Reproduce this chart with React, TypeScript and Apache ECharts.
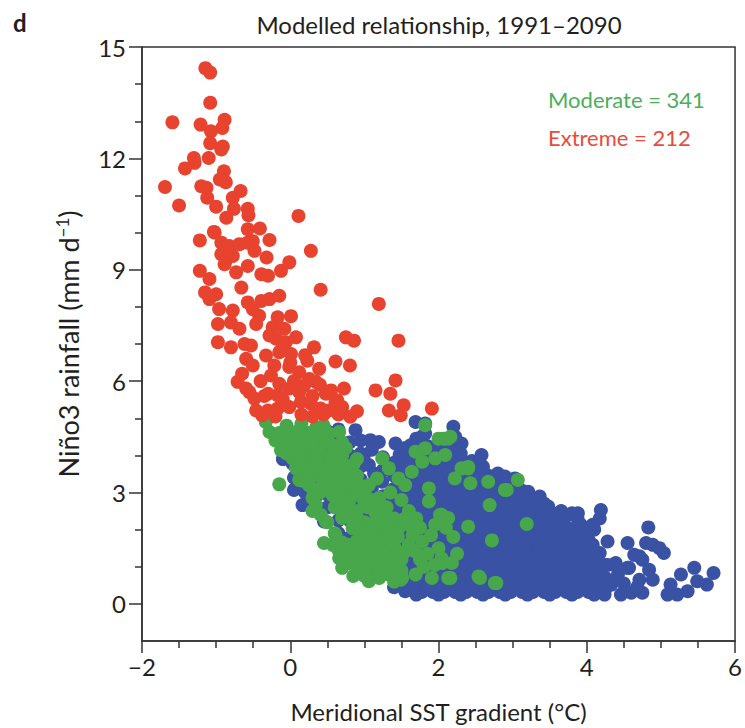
import React, { useEffect, useRef } from "react";
import * as echarts from "echarts";

// ---------- data ----------
const panelLabel = "d";
const chartTitle = "Modelled relationship, 1991–2090";
const xAxisTitle = "Meridional SST gradient (°C)";
const legendLabels = ["Moderate = 341", "Extreme = 212"];

const xRange = [-2, 6];
const yRange = [-1, 15];
const yMajorTicks = [0, 3, 6, 9, 12, 15];
const yMinorTicks = [1, 2, 4, 5, 7, 8, 10, 11, 13, 14];

const extremePoints: [number, number][] = [
  [-1.145, 14.43], [-1.08, 14.31], [-1.08, 13.5], [-1.59, 12.97], [-1.21, 12.91], [-0.886, 13.04],
  [-0.917, 12.82], [-1.07, 12.73], [-1.08, 12.41], [-0.91, 12.32], [-0.93, 12.24], [-1.3, 12.01],
  [-1.29, 11.88], [-1.1, 12.01], [-1.42, 11.73], [-0.895, 11.65], [-0.95, 11.43], [-0.87, 11.36],
  [-1.69, 11.23], [-1.2, 11.25], [-1.13, 11.21], [-1.12, 10.94], [-0.67, 11.12], [-0.775, 10.94],
  [-1.5, 10.73], [-1.0, 10.7], [-0.76, 10.64], [-0.573, 10.64], [-0.564, 10.47], [-0.863, 10.4],
  [0.111, 10.45], [-1.03, 10.02], [-0.573, 10.09], [-0.41, 10.11], [-0.28, 9.8], [-1.22, 9.79],
  [-1.02, 10.0], [-0.93, 9.73], [-0.82, 9.64], [-0.685, 9.69], [-0.573, 9.73], [-0.506, 9.77],
  [-0.93, 9.42], [-0.86, 9.28], [-0.775, 9.37], [-0.483, 9.51], [0.278, 9.51], [-0.32, 9.33],
  [-1.22, 8.97], [-0.886, 9.15], [-0.73, 8.93], [-0.573, 9.1], [-0.39, 8.88], [-0.3, 8.84],
  [-0.125, 8.97], [-0.013, 9.2], [-1.09, 8.75], [-0.66, 8.52], [0.41, 8.46], [-1.15, 8.39],
  [-1.0, 8.34], [-1.09, 8.21], [-0.573, 8.12], [-0.39, 8.16], [-0.28, 8.21], [-0.148, 8.3],
  [1.195, 8.08], [-0.96, 7.94], [-0.775, 7.9], [-0.506, 7.94], [-0.42, 7.76], [-0.17, 7.72],
  [0.01, 7.75], [-0.976, 7.54], [-0.8, 7.58], [-0.685, 7.41], [-0.46, 7.54], [-0.237, 7.45],
  [-0.08, 7.41], [-0.28, 7.23], [-0.19, 7.14], [-0.06, 7.05], [0.077, 7.18], [0.75, 7.18],
  [0.86, 7.09], [1.46, 7.09], [-0.976, 7.05], [-0.8, 6.91], [-0.617, 7.0], [-0.53, 6.96],
  [-0.327, 6.69], [-0.148, 6.78], [0.01, 6.73], [0.32, 6.91], [-0.595, 6.6], [-0.506, 6.42],
  [0.61, 6.53], [0.805, 6.42], [0.23, 6.55], [0.39, 6.33], [-0.215, 6.42], [-0.013, 6.38],
  [0.12, 6.24], [0.255, 6.06], [-0.71, 5.98], [-0.595, 5.8], [-0.483, 5.53], [-0.26, 6.15],
  [-0.148, 5.93], [-0.17, 5.62], [-0.3, 5.66], [-0.013, 5.8], [0.12, 5.71], [0.188, 5.88],
  [0.345, 5.98], [0.48, 5.66], [0.61, 5.44], [0.725, 5.8], [1.42, 6.02], [1.15, 5.75],
  [1.35, 5.66], [1.53, 5.35], [1.33, 5.21], [1.49, 5.08], [1.91, 5.26], [-0.46, 5.21],
  [-0.3, 5.21], [-0.17, 5.26], [-0.013, 5.3], [0.144, 5.44], [0.278, 5.39], [0.41, 5.26],
  [0.52, 5.21], [0.635, 5.48], [0.9, 5.19], [0.81, 5.04], [-0.35, 5.6], [-0.1, 5.5],
  [0.05, 6.0], [0.3, 5.6], [0.45, 5.1], [-0.2, 5.05], [0.15, 5.1], [0.65, 5.1],
  [-0.55, 5.7], [-0.65, 6.2], [-0.4, 6.0], [0.0, 6.5], [0.2, 6.7], [-0.1, 6.9],
  [0.4, 5.9], [-0.38, 5.08], [0.3, 5.05], [0.55, 5.75], [0.7, 5.3],
];

const moderatePoints: [number, number][] = [
  [-0.28, 4.63], [-0.33, 4.9], [-0.125, 4.14], [-0.148, 3.22], [0.03, 4.27], [0.165, 4.45],
  [0.345, 4.54], [0.52, 4.59], [0.66, 4.63], [0.12, 3.34], [0.278, 3.83], [0.435, 3.38],
  [0.345, 2.66], [0.41, 2.4], [0.455, 1.64], [0.66, 1.23], [0.79, 1.41], [0.97, 0.88],
  [1.08, 0.7], [0.93, 1.05], [0.75, 2.66], [0.93, 2.93], [1.06, 3.2], [1.17, 3.38],
  [1.24, 3.92], [1.33, 3.65], [1.46, 3.38], [1.55, 3.2], [1.64, 3.56], [1.78, 3.83],
  [1.69, 4.1], [1.82, 4.19], [1.955, 3.92], [2.09, 4.01], [1.82, 4.81], [2.0, 4.45],
  [2.13, 4.45], [2.31, 3.65], [2.4, 3.65], [2.22, 3.38], [1.87, 3.11], [1.87, 2.76],
  [2.02, 2.4], [1.955, 2.13], [2.13, 2.31], [2.43, 3.25], [2.67, 3.29], [2.895, 3.07],
  [3.07, 3.34], [2.69, 2.66], [2.4, 2.08], [3.19, 2.15], [2.72, 1.71], [2.54, 0.74],
  [2.76, 0.56], [2.04, 1.23], [2.18, 1.1], [2.13, 0.7], [1.91, 0.7], [1.69, 0.79],
  [1.51, 0.7], [1.37, 0.79], [1.31, 1.01], [1.24, 1.86], [1.46, 2.04], [1.6, 2.13],
  [1.78, 1.68], [1.69, 1.41], [1.55, 1.41], [1.37, 1.5], [-0.1, 4.27], [0.03, 3.92],
  [0.165, 3.65], [0.345, 3.47], [0.52, 3.38], [0.66, 3.38], [0.79, 3.38], [0.93, 3.2],
  [0.61, 4.1], [0.48, 3.83], [0.21, 4.01], [0.077, 3.65], [0.3, 3.11], [0.57, 2.93],
  [0.7, 2.31], [0.84, 2.04], [1.02, 1.86], [1.15, 1.41], [0.61, 1.86], [0.48, 2.22],
  [0.57, 1.59], [0.79, 1.59], [0.88, 1.23], [0.7, 0.97], [1.02, 1.41], [1.24, 1.15],
  [0.2, 4.3], [0.4, 4.1], [0.1, 3.9], [0.3, 3.6], [0.5, 3.5], [0.7, 3.1],
  [0.8, 2.8], [0.6, 2.6], [0.9, 2.5], [1.0, 2.2], [1.1, 1.9], [0.9, 1.7],
  [1.2, 1.7], [0.4, 3.0], [0.2, 3.3], [0.0, 4.5], [-0.2, 4.4], [0.6, 3.9],
  [0.8, 3.6], [1.0, 3.0], [1.3, 2.6], [1.1, 2.8], [1.4, 2.3], [1.2, 2.1],
  [0.5, 2.2], [0.6, 1.9], [0.75, 1.3], [1.05, 0.95], [1.3, 0.9], [-0.05, 4.8],
  [0.15, 4.85], [0.35, 4.75], [0.55, 4.0], [0.45, 4.4], [0.75, 4.2], [0.9, 3.9],
  [1.35, 3.0], [1.5, 2.8], [1.6, 2.5], [1.45, 1.8], [1.6, 1.6], [1.7, 2.3],
  [1.5, 1.2], [1.8, 1.0], [2.0, 1.5], [2.2, 1.8], [0.93, 0.92], [1.06, 0.61],
  [1.33, 0.79], [1.49, 0.65], [2.07, 4.45], [2.16, 4.5], [2.4, 3.69], [2.92, 3.07],
  [2.04, 2.4], [2.07, 2.22], [2.05, 1.1], [2.16, 0.7], [2.56, 0.7], [2.78, 0.56],
  [0.1, 4.65], [0.25, 4.6], [-0.15, 4.6], [0.45, 4.8], [-0.1, 4.45], [0.05, 4.35],
  [0.3, 4.3], [0.55, 4.3], [0.7, 4.35], [0.42, 4.55], [-0.05, 4.05], [0.1, 4.1],
  [0.35, 3.95], [0.7, 4.0], [0.15, 3.8], [0.4, 3.7], [0.55, 3.75], [0.7, 3.8],
  [0.85, 3.75], [0.25, 3.45], [0.6, 3.55], [0.9, 3.45], [0.75, 3.6], [0.25, 3.2],
  [0.45, 3.2], [0.6, 3.2], [0.85, 3.1], [0.3, 2.85], [0.65, 2.85], [0.85, 2.95],
  [1.05, 2.6], [1.2, 2.85], [1.0, 2.75], [0.3, 2.5], [0.75, 2.45], [0.9, 2.3],
  [1.15, 2.45], [1.3, 2.3], [1.2, 2.55], [0.85, 2.2], [1.05, 2.05], [1.15, 2.2],
  [1.35, 2.05], [1.3, 1.95], [0.95, 1.9], [1.15, 1.75], [1.3, 1.75], [1.4, 1.55],
  [1.05, 1.65], [0.7, 1.65], [0.65, 1.45], [0.85, 1.45], [0.95, 1.55], [1.1, 1.3],
  [1.25, 1.4], [1.4, 1.3], [0.8, 1.1], [0.95, 1.2], [1.1, 1.1], [1.2, 0.95],
  [1.4, 1.05], [1.5, 0.9], [0.85, 0.75], [1.0, 0.75], [1.2, 0.7], [1.4, 0.6],
  [1.55, 2.3], [1.75, 2.05], [1.9, 1.85], [2.1, 2.05], [1.65, 1.85], [1.85, 1.35],
  [2.25, 1.35], [1.95, 1.05], [1.75, 1.2],
];

// blue cloud: edge and scattered points
const weakPoints: [number, number][] = [
  [-0.1, 3.9], [-0.1, 4.25], [-0.08, 4.59],
  [0.05, 3.07], [0.05, 3.4], [0.03, 3.78], [0.05, 4.1],
  [0.165, 2.66], [0.2, 3.0], [0.2, 3.35], [0.2, 3.7], [0.2, 4.05], [0.2, 4.4],
  [0.35, 2.55], [0.35, 2.9], [0.35, 3.25], [0.35, 3.6], [0.35, 3.95], [0.35, 4.3], [0.35, 4.6],
  [0.455, 2.22], [0.5, 2.6], [0.5, 2.95], [0.5, 3.3], [0.5, 3.65], [0.5, 4.0], [0.5, 4.35], [0.5, 4.65],
  [0.65, 1.9], [0.65, 2.25], [0.65, 2.6], [0.65, 2.95], [0.65, 3.3], [0.65, 3.65], [0.65, 4.0], [0.65, 4.35], [0.65, 4.7],
  [0.79, 1.77], [0.8, 2.25], [0.8, 2.6], [0.8, 2.95], [0.8, 3.3], [0.8, 3.65], [0.8, 4.0], [0.8, 4.35], [0.88, 4.68],
  [0.95, 1.25], [0.95, 1.6], [0.95, 1.95], [0.95, 2.3], [0.95, 2.65], [0.99, 3.96], [0.95, 3.35], [0.95, 3.7], [0.95, 4.05], [0.95, 4.4],
  [1.1, 1.0], [1.1, 1.35], [1.1, 1.7], [1.1, 2.05], [1.1, 2.4], [1.1, 2.75], [1.1, 3.1], [1.13, 3.51], [1.06, 3.74], [1.1, 4.15], [1.08, 4.41],
  [1.25, 0.8], [1.25, 1.15], [1.25, 1.5], [1.25, 1.85], [1.25, 2.2], [1.25, 2.55], [1.25, 2.9], [1.24, 3.29], [1.25, 3.6], [1.25, 3.95], [1.195, 4.36],
  [1.4, 0.45], [1.4, 1.0], [1.4, 1.35], [1.4, 1.7], [1.4, 2.05], [1.4, 2.4], [1.4, 2.75], [1.4, 3.1], [1.4, 3.45], [1.4, 3.8], [1.42, 4.32],
  [1.55, 0.34], [1.55, 0.7], [1.55, 1.05], [1.55, 1.4], [1.55, 1.75], [1.55, 2.1], [1.55, 2.45], [1.55, 2.8], [1.55, 3.15], [1.55, 3.5], [1.55, 3.85], [1.55, 4.2],
  [1.7, 0.25], [1.7, 0.6], [1.7, 0.95], [1.7, 1.3], [1.7, 1.65], [1.7, 2.0], [1.7, 2.35], [1.7, 2.7], [1.7, 3.05], [1.7, 3.4], [1.7, 3.75], [1.7, 4.1], [1.7, 4.45], [1.69, 4.9],
  [1.85, 0.4], [1.85, 0.75], [1.85, 1.1], [1.85, 1.45], [1.85, 1.8], [1.85, 2.15], [1.85, 2.5], [1.85, 2.85], [1.85, 3.2], [1.85, 3.55], [1.85, 3.9], [1.85, 4.25], [1.82, 4.59], [1.82, 4.86],
  [2.0, 0.25], [2.0, 0.6], [2.0, 0.95], [2.0, 1.3], [2.0, 1.65], [2.0, 2.0], [2.0, 2.35], [2.0, 2.7], [2.0, 3.05], [2.0, 3.4], [2.0, 3.75], [2.0, 4.1],
  [2.15, 0.4], [2.15, 0.75], [2.15, 1.1], [2.15, 1.45], [2.15, 1.8], [2.15, 2.15], [2.15, 2.5], [2.15, 2.85], [2.15, 3.2], [2.15, 3.55], [2.15, 3.9], [2.15, 4.25], [2.2, 4.77],
  [2.3, 0.25], [2.3, 0.6], [2.3, 0.95], [2.3, 1.3], [2.3, 1.65], [2.3, 2.0], [2.3, 2.35], [2.3, 2.7], [2.3, 3.05], [2.3, 3.4], [2.3, 3.75], [2.3, 4.05], [2.31, 4.32],
  [2.45, 0.4], [2.45, 0.75], [2.45, 1.1], [2.45, 1.45], [2.45, 1.8], [2.45, 2.15], [2.45, 2.5], [2.45, 2.85], [2.45, 3.2], [2.45, 3.55], [2.45, 3.85], [2.58, 4.01], [2.56, 3.78],
  [2.6, 0.25], [2.6, 0.6], [2.6, 0.95], [2.6, 1.3], [2.6, 1.65], [2.6, 2.0], [2.6, 2.35], [2.6, 2.7], [2.6, 3.05], [2.6, 3.4], [2.6, 3.69],
  [2.75, 0.4], [2.75, 0.75], [2.75, 1.1], [2.75, 1.45], [2.75, 1.8], [2.75, 2.15], [2.75, 2.5], [2.75, 2.85], [2.75, 3.2], [2.8, 3.51],
  [2.9, 0.25], [2.9, 0.6], [2.9, 0.95], [2.9, 1.3], [2.9, 1.65], [2.9, 2.0], [2.9, 2.35], [2.9, 2.7], [2.9, 3.05], [2.895, 3.43],
  [3.05, 0.4], [3.05, 0.75], [3.05, 1.1], [3.05, 1.45], [3.05, 1.8], [3.05, 2.15], [3.05, 2.5], [3.05, 2.85], [3.05, 3.15], [3.03, 3.38],
  [3.2, 0.25], [3.2, 0.6], [3.2, 0.95], [3.2, 1.3], [3.2, 1.65], [3.2, 2.0], [3.2, 2.35], [3.2, 2.7], [3.21, 3.02],
  [3.35, 0.4], [3.35, 0.75], [3.35, 1.1], [3.35, 1.45], [3.35, 1.8], [3.35, 2.15], [3.35, 2.5], [3.365, 2.89],
  [3.5, 0.25], [3.5, 0.6], [3.5, 0.95], [3.5, 1.3], [3.5, 1.65], [3.5, 2.0], [3.5, 2.35], [3.48, 2.62],
  [3.65, 0.4], [3.65, 0.75], [3.65, 1.1], [3.65, 1.45], [3.65, 1.8], [3.65, 2.15], [3.655, 2.5],
  [3.8, 0.25], [3.8, 0.6], [3.8, 0.95], [3.8, 1.3], [3.8, 1.65], [3.8, 2.0], [3.8, 2.44],
  [3.95, 0.4], [3.95, 0.75], [3.95, 1.1], [3.95, 1.45], [3.95, 1.8], [3.92, 2.13], [3.88, 2.44],
  [4.1, 0.25], [4.1, 0.6], [4.08, 0.97], [4.1, 1.3], [4.08, 1.59], [4.1, 2.0], [4.08, 2.13], [4.19, 2.53],
  [4.25, 0.4], [4.25, 0.7], [4.25, 1.05], [4.28, 1.68],
  [4.19, 0.7], [4.06, 0.52], [4.24, 0.25], [4.46, 0.25], [4.33, 0.52], [4.42, 0.79],
  [4.39, 1.1], [4.28, 1.05], [4.08, 1.05], [4.55, 1.64], [4.55, 0.97], [4.64, 1.32],
  [4.71, 1.28], [4.75, 1.19], [4.57, 0.97], [4.84, 0.92], [4.89, 0.65], [4.71, 0.65],
  [4.75, 0.3], [4.6, 0.3], [4.83, 2.06], [4.8, 1.64], [4.89, 1.59], [4.98, 1.5],
  [5.04, 1.37], [5.13, 0.52], [5.27, 0.79], [5.45, 0.97], [5.71, 0.83], [5.62, 0.52],
  [5.49, 0.61], [5.36, 0.34], [5.22, 0.25], [5.09, 0.25], [4.15, 0.52], [4.37, 1.05],
  [4.5, 0.55], [4.68, 0.45],
];

// blue cloud: points filling the dense core between the columns above
const weakCorePoints: [number, number][] = [
  [1.475, 0.52], [1.475, 0.87], [1.475, 1.22], [1.475, 1.57], [1.475, 1.92], [1.475, 2.27], [1.475, 2.62], [1.475, 2.97], [1.475, 3.32], [1.475, 3.67], [1.475, 4.02],
  [1.625, 0.42], [1.625, 0.77], [1.625, 1.12], [1.625, 1.47], [1.625, 1.82], [1.625, 2.17], [1.625, 2.52], [1.625, 2.87], [1.625, 3.22], [1.625, 3.57], [1.625, 3.92], [1.625, 4.27],
  [1.775, 0.32], [1.775, 0.67], [1.775, 1.02], [1.775, 1.37], [1.775, 1.72], [1.775, 2.07], [1.775, 2.42], [1.775, 2.77], [1.775, 3.12], [1.775, 3.47], [1.775, 3.82], [1.775, 4.17], [1.775, 4.5],
  [1.925, 0.32], [1.925, 0.67], [1.925, 1.02], [1.925, 1.37], [1.925, 1.72], [1.925, 2.07], [1.925, 2.42], [1.925, 2.77], [1.925, 3.12], [1.925, 3.47], [1.925, 3.82], [1.925, 4.17],
  [2.075, 0.32], [2.075, 0.67], [2.075, 1.02], [2.075, 1.37], [2.075, 1.72], [2.075, 2.07], [2.075, 2.42], [2.075, 2.77], [2.075, 3.12], [2.075, 3.47], [2.075, 3.82], [2.075, 4.17],
  [2.225, 0.32], [2.225, 0.67], [2.225, 1.02], [2.225, 1.37], [2.225, 1.72], [2.225, 2.07], [2.225, 2.42], [2.225, 2.77], [2.225, 3.12], [2.225, 3.47], [2.225, 3.82], [2.225, 4.17], [2.225, 4.5],
  [2.375, 0.32], [2.375, 0.67], [2.375, 1.02], [2.375, 1.37], [2.375, 1.72], [2.375, 2.07], [2.375, 2.42], [2.375, 2.77], [2.375, 3.12], [2.375, 3.47], [2.375, 3.8],
  [2.525, 0.32], [2.525, 0.67], [2.525, 1.02], [2.525, 1.37], [2.525, 1.72], [2.525, 2.07], [2.525, 2.42], [2.525, 2.77], [2.525, 3.12], [2.525, 3.47], [2.525, 3.7],
  [2.675, 0.32], [2.675, 0.67], [2.675, 1.02], [2.675, 1.37], [2.675, 1.72], [2.675, 2.07], [2.675, 2.42], [2.675, 2.77], [2.675, 3.12], [2.675, 3.45],
  [2.825, 0.32], [2.825, 0.67], [2.825, 1.02], [2.825, 1.37], [2.825, 1.72], [2.825, 2.07], [2.825, 2.42], [2.825, 2.77], [2.825, 3.12], [2.825, 3.35],
  [2.975, 0.32], [2.975, 0.67], [2.975, 1.02], [2.975, 1.37], [2.975, 1.72], [2.975, 2.07], [2.975, 2.42], [2.975, 2.77], [2.975, 3.12],
  [3.125, 0.32], [3.125, 0.67], [3.125, 1.02], [3.125, 1.37], [3.125, 1.72], [3.125, 2.07], [3.125, 2.42], [3.125, 2.77], [3.125, 3.05],
  [3.275, 0.32], [3.275, 0.67], [3.275, 1.02], [3.275, 1.37], [3.275, 1.72], [3.275, 2.07], [3.275, 2.42], [3.275, 2.77],
  [3.425, 0.32], [3.425, 0.67], [3.425, 1.02], [3.425, 1.37], [3.425, 1.72], [3.425, 2.07], [3.425, 2.42], [3.425, 2.7],
  [3.575, 0.32], [3.575, 0.67], [3.575, 1.02], [3.575, 1.37], [3.575, 1.72], [3.575, 2.07], [3.575, 2.42],
  [3.725, 0.32], [3.725, 0.67], [3.725, 1.02], [3.725, 1.37], [3.725, 1.72], [3.725, 2.07], [3.725, 2.38],
  [3.875, 0.32], [3.875, 0.67], [3.875, 1.02], [3.875, 1.37], [3.875, 1.72], [3.875, 2.07], [3.875, 2.3],
  [4.025, 0.32], [4.025, 0.67], [4.025, 1.02], [4.025, 1.37], [4.025, 1.72], [4.025, 2.0],
  [4.175, 0.32], [4.175, 0.67], [4.175, 1.02], [4.175, 1.37], [4.175, 2.3],
];

// ---------- styling ----------
const FONT = "Lato, 'Open Sans', sans-serif";
const INK = "#231f20";
const RED = "#E8432F";
const GREEN = "#47A74A";
const BLUE = "#3A52A4";
const LEGEND_GREEN = "#4BAE5A";
const LEGEND_RED = "#EA4A3A";
const DOT = 14;

const minus = (v: number) => String(v).replace("-", "−");

export default function App() {
  const ref = useRef<HTMLDivElement>(null);

  useEffect(() => {
    if (!ref.current) return;
    const chart = echarts.init(ref.current, undefined, { renderer: "svg" });
    const axisLine = { show: true, onZero: false, lineStyle: { color: "#333", width: 1.5 } };
    chart.setOption({
      animation: false,
      title: [
        {
          text: panelLabel,
          left: 8,
          top: 5,
          textStyle: { fontFamily: FONT, fontSize: 24, fontWeight: "bold", color: INK },
        },
        {
          text: chartTitle,
          left: 434,
          top: 7,
          textAlign: "center",
          textStyle: { fontFamily: FONT, fontSize: 24, fontWeight: "normal", color: INK },
        },
      ],
      grid: {
        left: 142,
        right: 7,
        top: 47,
        bottom: 85,
        show: true,
        borderColor: "#333",
        borderWidth: 1.5,
        backgroundColor: "transparent",
      },
      xAxis: {
        type: "value",
        min: xRange[0],
        max: xRange[1],
        interval: 2,
        name: xAxisTitle,
        nameLocation: "middle",
        nameGap: 58,
        nameTextStyle: { fontFamily: FONT, fontSize: 24, color: INK },
        axisLine,
        axisTick: { show: true, inside: false, length: 12, lineStyle: { color: "#333", width: 1.5 } },
        minorTick: { show: true, splitNumber: 4, length: 7, lineStyle: { color: "#333", width: 1.5 } },
        splitLine: { show: false },
        minorSplitLine: { show: false },
        axisLabel: {
          margin: 13,
          fontFamily: FONT,
          fontSize: 24,
          color: INK,
          formatter: (v: number) => minus(v),
        },
      },
      yAxis: [
        {
          type: "value",
          min: yRange[0],
          max: yRange[1],
          position: "left",
          name: "Niño3 rainfall (mm d{sup|−1})",
          nameLocation: "middle",
          nameRotate: 90,
          nameGap: 60,
          nameTextStyle: {
            fontFamily: FONT,
            fontSize: 27,
            color: INK,
            rich: {
              sup: { fontFamily: FONT, fontSize: 17, color: INK, verticalAlign: "top", lineHeight: 28 },
            },
          },
          axisLine,
          axisTick: {
            show: true,
            length: 13,
            customValues: yMajorTicks,
            lineStyle: { color: "#333", width: 1.5 },
          },
          axisLabel: {
            margin: 16,
            fontFamily: FONT,
            fontSize: 24,
            color: INK,
            customValues: yMajorTicks,
          },
          splitLine: { show: false },
        },
        {
          type: "value",
          min: yRange[0],
          max: yRange[1],
          position: "left",
          axisLine: { show: false, onZero: false },
          axisTick: {
            show: true,
            length: 7,
            customValues: yMinorTicks,
            lineStyle: { color: "#333", width: 1.5 },
          },
          axisLabel: { show: false },
          splitLine: { show: false },
        },
      ],
      graphic: [
        {
          type: "text",
          x: 548,
          y: 99,
          style: {
            text: legendLabels[0],
            fill: LEGEND_GREEN,
            fontFamily: FONT,
            fontSize: 22,
            verticalAlign: "middle",
            align: "left",
          },
        },
        {
          type: "text",
          x: 548,
          y: 137,
          style: {
            text: legendLabels[1],
            fill: LEGEND_RED,
            fontFamily: FONT,
            fontSize: 22,
            verticalAlign: "middle",
            align: "left",
          },
        },
      ],
      series: [
        {
          name: "Weak",
          type: "scatter",
          yAxisIndex: 0,
          data: [...weakCorePoints, ...weakPoints],
          symbolSize: DOT,
          itemStyle: { color: BLUE, opacity: 1 },
          emphasis: { disabled: true },
        },
        {
          name: "Moderate",
          type: "scatter",
          yAxisIndex: 0,
          data: moderatePoints,
          symbolSize: DOT,
          itemStyle: { color: GREEN, opacity: 1 },
          emphasis: { disabled: true },
        },
        {
          name: "Extreme",
          type: "scatter",
          yAxisIndex: 0,
          data: extremePoints,
          symbolSize: DOT,
          itemStyle: { color: RED, opacity: 1 },
          emphasis: { disabled: true },
        },
      ],
    });
    return () => chart.dispose();
  }, []);

  return (
    <div
      ref={ref}
      style={{ position: "absolute", left: 0, top: 0, width: 745, height: 728 }}
    />
  );
}
